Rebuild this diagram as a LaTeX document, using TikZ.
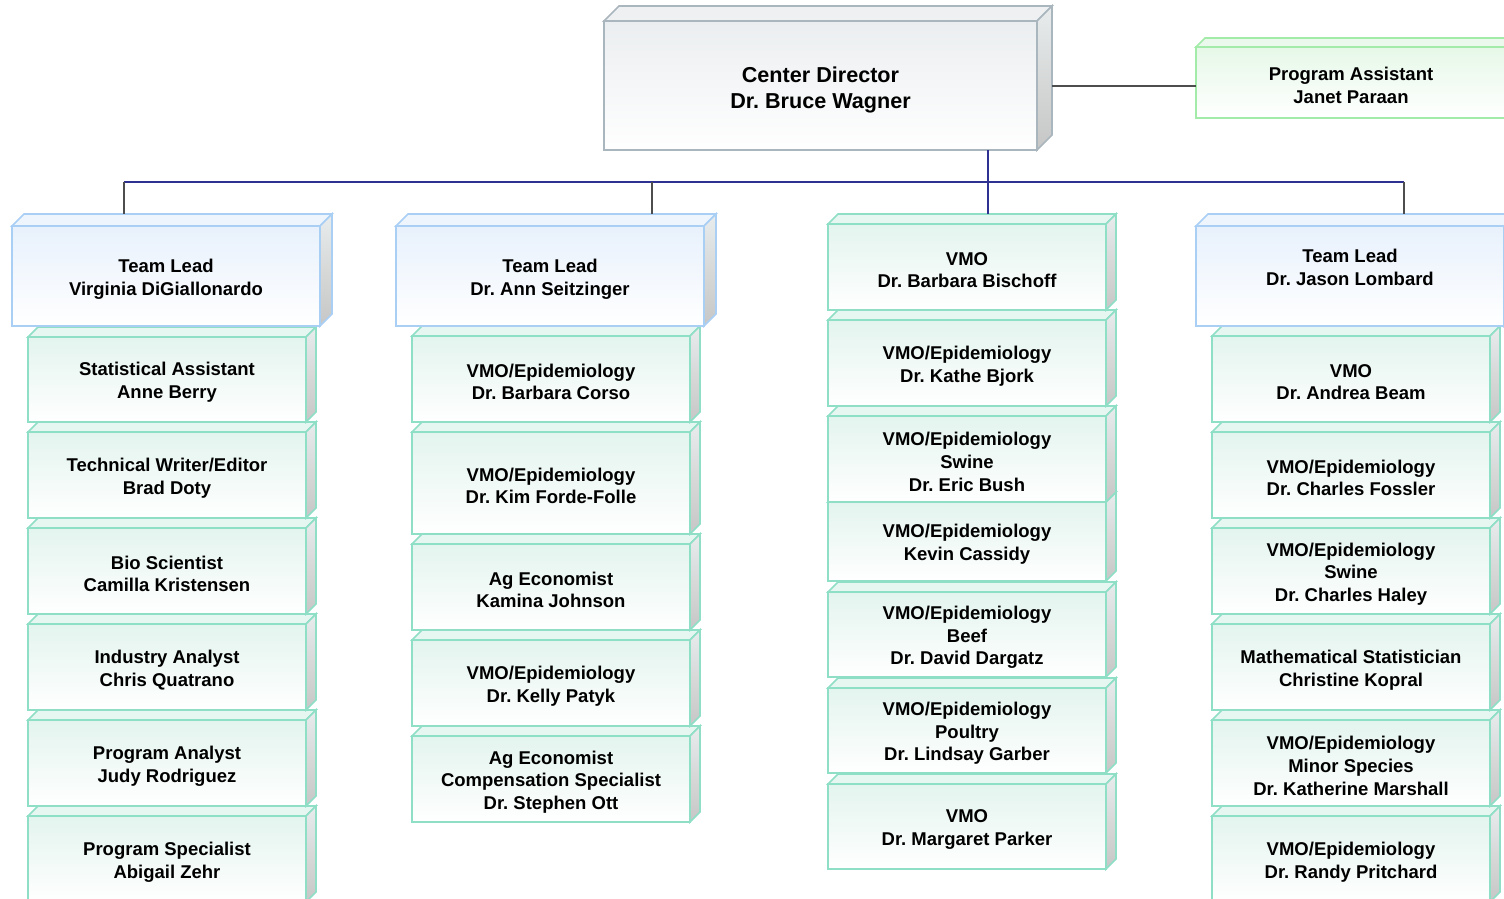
\documentclass[tikz,border=0pt]{standalone}
\usepackage{fontspec}
\setmainfont{Liberation Sans}
\frenchspacing
\definecolor{gborder}{HTML}{8FDEC6}
\definecolor{gfill}{HTML}{E3F4EE}
\definecolor{gtopc}{HTML}{E6F6F1}
\definecolor{bborder}{HTML}{A9CFF5}
\definecolor{bfill}{HTML}{E8F1FC}
\definecolor{btopc}{HTML}{EEF5FD}
\definecolor{pborder}{HTML}{A3EBA8}
\definecolor{pfill}{HTML}{E6F8E8}
\definecolor{ptopc}{HTML}{EAF9EC}
\definecolor{dborder}{HTML}{AAB6BE}
\definecolor{dfill}{HTML}{EBEEF0}
\definecolor{dtopc}{HTML}{EEF0F2}
\definecolor{sidetop}{HTML}{E8ECEC}
\definecolor{sidebot}{HTML}{C6C6C6}
\definecolor{navyline}{HTML}{2E3192}
\definecolor{grayline}{HTML}{4D4D4D}
\newcommand\cube[8]{%
  \draw[#2top] (#3,#4) -- (#3+#7,#4-#7) -- (#5+#7,#4-#7) -- (#5,#4) -- cycle;
  \draw[#2side] (#5,#4) -- (#5+#7,#4-#7) -- (#5+#7,#6-#7) -- (#5,#6) -- cycle;
  \node[#2front, minimum width={#5-#3}, minimum height={#6-#4}] (#1) at ({(#3+#5)/2},{(#4+#6)/2}) {};
  \node[#2text] (#1t) at ([yshift=-3pt]#1.center) {#8};
}
\begin{document}
\begin{tikzpicture}[x=1pt,y=-1pt,
  every node/.style={font=\bfseries\fontsize{18.5}{22.7}\selectfont, align=center, inner sep=0pt, outer sep=0pt},
  boxline/.style={line width=1.6pt, line join=miter},
  gfront/.style={boxline, draw=gborder, top color=gfill, bottom color=white},
  gtop/.style={boxline, draw=gborder, fill=gtopc},
  gside/.style={boxline, draw=gborder, top color=sidetop, bottom color=sidebot},
  gtext/.style={},
  bfront/.style={boxline, draw=bborder, top color=bfill, bottom color=white},
  btop/.style={boxline, draw=bborder, fill=btopc},
  bside/.style={boxline, draw=bborder, top color=sidetop, bottom color=sidebot},
  btext/.style={},
  pfront/.style={boxline, draw=pborder, top color=pfill, bottom color=white},
  ptop/.style={boxline, draw=pborder, fill=ptopc},
  pside/.style={boxline, draw=pborder, top color=sidetop, bottom color=sidebot},
  ptext/.style={},
  dfront/.style={boxline, draw=dborder, top color=dfill, bottom color=white!97!dfill},
  dtop/.style={boxline, draw=dborder, fill=dtopc},
  dside/.style={boxline, draw=dborder, top color=sidetop, bottom color=sidebot},
  dtext/.style={font=\bfseries\fontsize{21.6}{26}\selectfont, yshift=-1pt},
  navy/.style={draw=navyline, line width=2pt},
  grayc/.style={draw=grayline, line width=2pt}]
\useasboundingbox (0,0) rectangle (1504,899);
% top level
\cube{dir}{d}{604}{21}{1037}{150}{15}{Center Director\\Dr. Bruce Wagner}
\cube{pa}{p}{1196}{47}{1506}{118}{9}{Program Assistant\\Janet Paraan}
% column 1
\cube{c1f}{g}{28}{816}{306}{902}{10}{Program Specialist\\Abigail Zehr}
\cube{c1e}{g}{28}{720}{306}{806}{10}{Program Analyst\\Judy Rodriguez}
\cube{c1d}{g}{28}{624}{306}{710}{10}{Industry Analyst\\Chris Quatrano}
\cube{c1c}{g}{28}{528}{306}{614}{10}{Bio Scientist\\Camilla Kristensen}
\cube{c1b}{g}{28}{432}{306}{518}{10}{Technical Writer/Editor\\Brad Doty}
\cube{c1a}{g}{28}{337}{306}{422}{10}{Statistical Assistant\\Anne Berry}
\cube{tl1}{b}{12}{226}{320}{326}{12}{Team Lead\\Virginia DiGiallonardo}
% column 2
\cube{c2e}{g}{412}{736}{690}{822}{10}{Ag Economist\\Compensation Specialist\\Dr. Stephen Ott}
\cube{c2d}{g}{412}{640}{690}{726}{10}{VMO/Epidemiology\\Dr. Kelly Patyk}
\cube{c2c}{g}{412}{544}{690}{630}{10}{Ag Economist\\Kamina Johnson}
\cube{c2b}{g}{412}{432}{690}{534}{10}{VMO/Epidemiology\\Dr. Kim Forde-Folle}
\cube{c2a}{g}{412}{336}{690}{422}{10}{VMO/Epidemiology\\Dr. Barbara Corso}
\cube{tl2}{b}{396}{226}{704}{326}{12}{Team Lead\\Dr. Ann Seitzinger}
% column 3
\cube{c3g}{g}{828}{784}{1106}{869}{10}{VMO\\Dr. Margaret Parker}
\cube{c3f}{g}{828}{688}{1106}{773}{10}{VMO/Epidemiology\\Poultry\\Dr. Lindsay Garber}
\cube{c3e}{g}{828}{592}{1106}{677}{10}{VMO/Epidemiology\\Beef\\Dr. David Dargatz}
\cube{c3d}{g}{828}{502}{1106}{581}{10}{VMO/Epidemiology\\Kevin Cassidy}
\cube{c3c}{g}{828}{416}{1106}{502}{10}{VMO/Epidemiology\\Swine\\Dr. Eric Bush}
\cube{c3b}{g}{828}{320}{1106}{406}{10}{VMO/Epidemiology\\Dr. Kathe Bjork}
\cube{c3a}{g}{828}{224}{1106}{310}{10}{VMO\\Dr. Barbara Bischoff}
% column 4
\cube{c4f}{g}{1212}{816}{1490}{902}{10}{VMO/Epidemiology\\Dr. Randy Pritchard}
\cube{c4e}{g}{1212}{720}{1490}{806}{10}{VMO/Epidemiology\\Minor Species\\Dr. Katherine Marshall}
\cube{c4d}{g}{1212}{624}{1490}{710}{10}{Mathematical Statistician\\Christine Kopral}
\cube{c4c}{g}{1212}{528}{1490}{614}{10}{VMO/Epidemiology\\Swine\\Dr. Charles Haley}
\cube{c4b}{g}{1212}{432}{1490}{518}{10}{VMO/Epidemiology\\Dr. Charles Fossler}
\cube{c4a}{g}{1212}{336}{1490}{422}{10}{VMO\\Dr. Andrea Beam}
\cube{tl4}{b}{1196}{226}{1504}{326}{12}{}
\node (tl4text) at ([yshift=8.5pt]tl4.center) {Team Lead\\Dr. Jason Lombard};
% connectors
\coordinate (busL) at (124,182);
\coordinate (busR) at (1404,182);
\coordinate (d1) at (124,214);
\coordinate (d2) at (652,214);
\coordinate (d3) at (988,214);
\coordinate (d4) at (1404,214);
\draw[grayc] ([xshift=15pt]dir.east) -- (dir.east -| pa.west);
\draw[navy] (busL) -- (busR);
\draw[navy] (dir.south -| d3) -- (d3);
\draw[grayc] (busL) -- (d1);
\draw[grayc] (d2 |- busL) -- (d2);
\draw[grayc] (busR) -- (d4);
\end{tikzpicture}
\end{document}
